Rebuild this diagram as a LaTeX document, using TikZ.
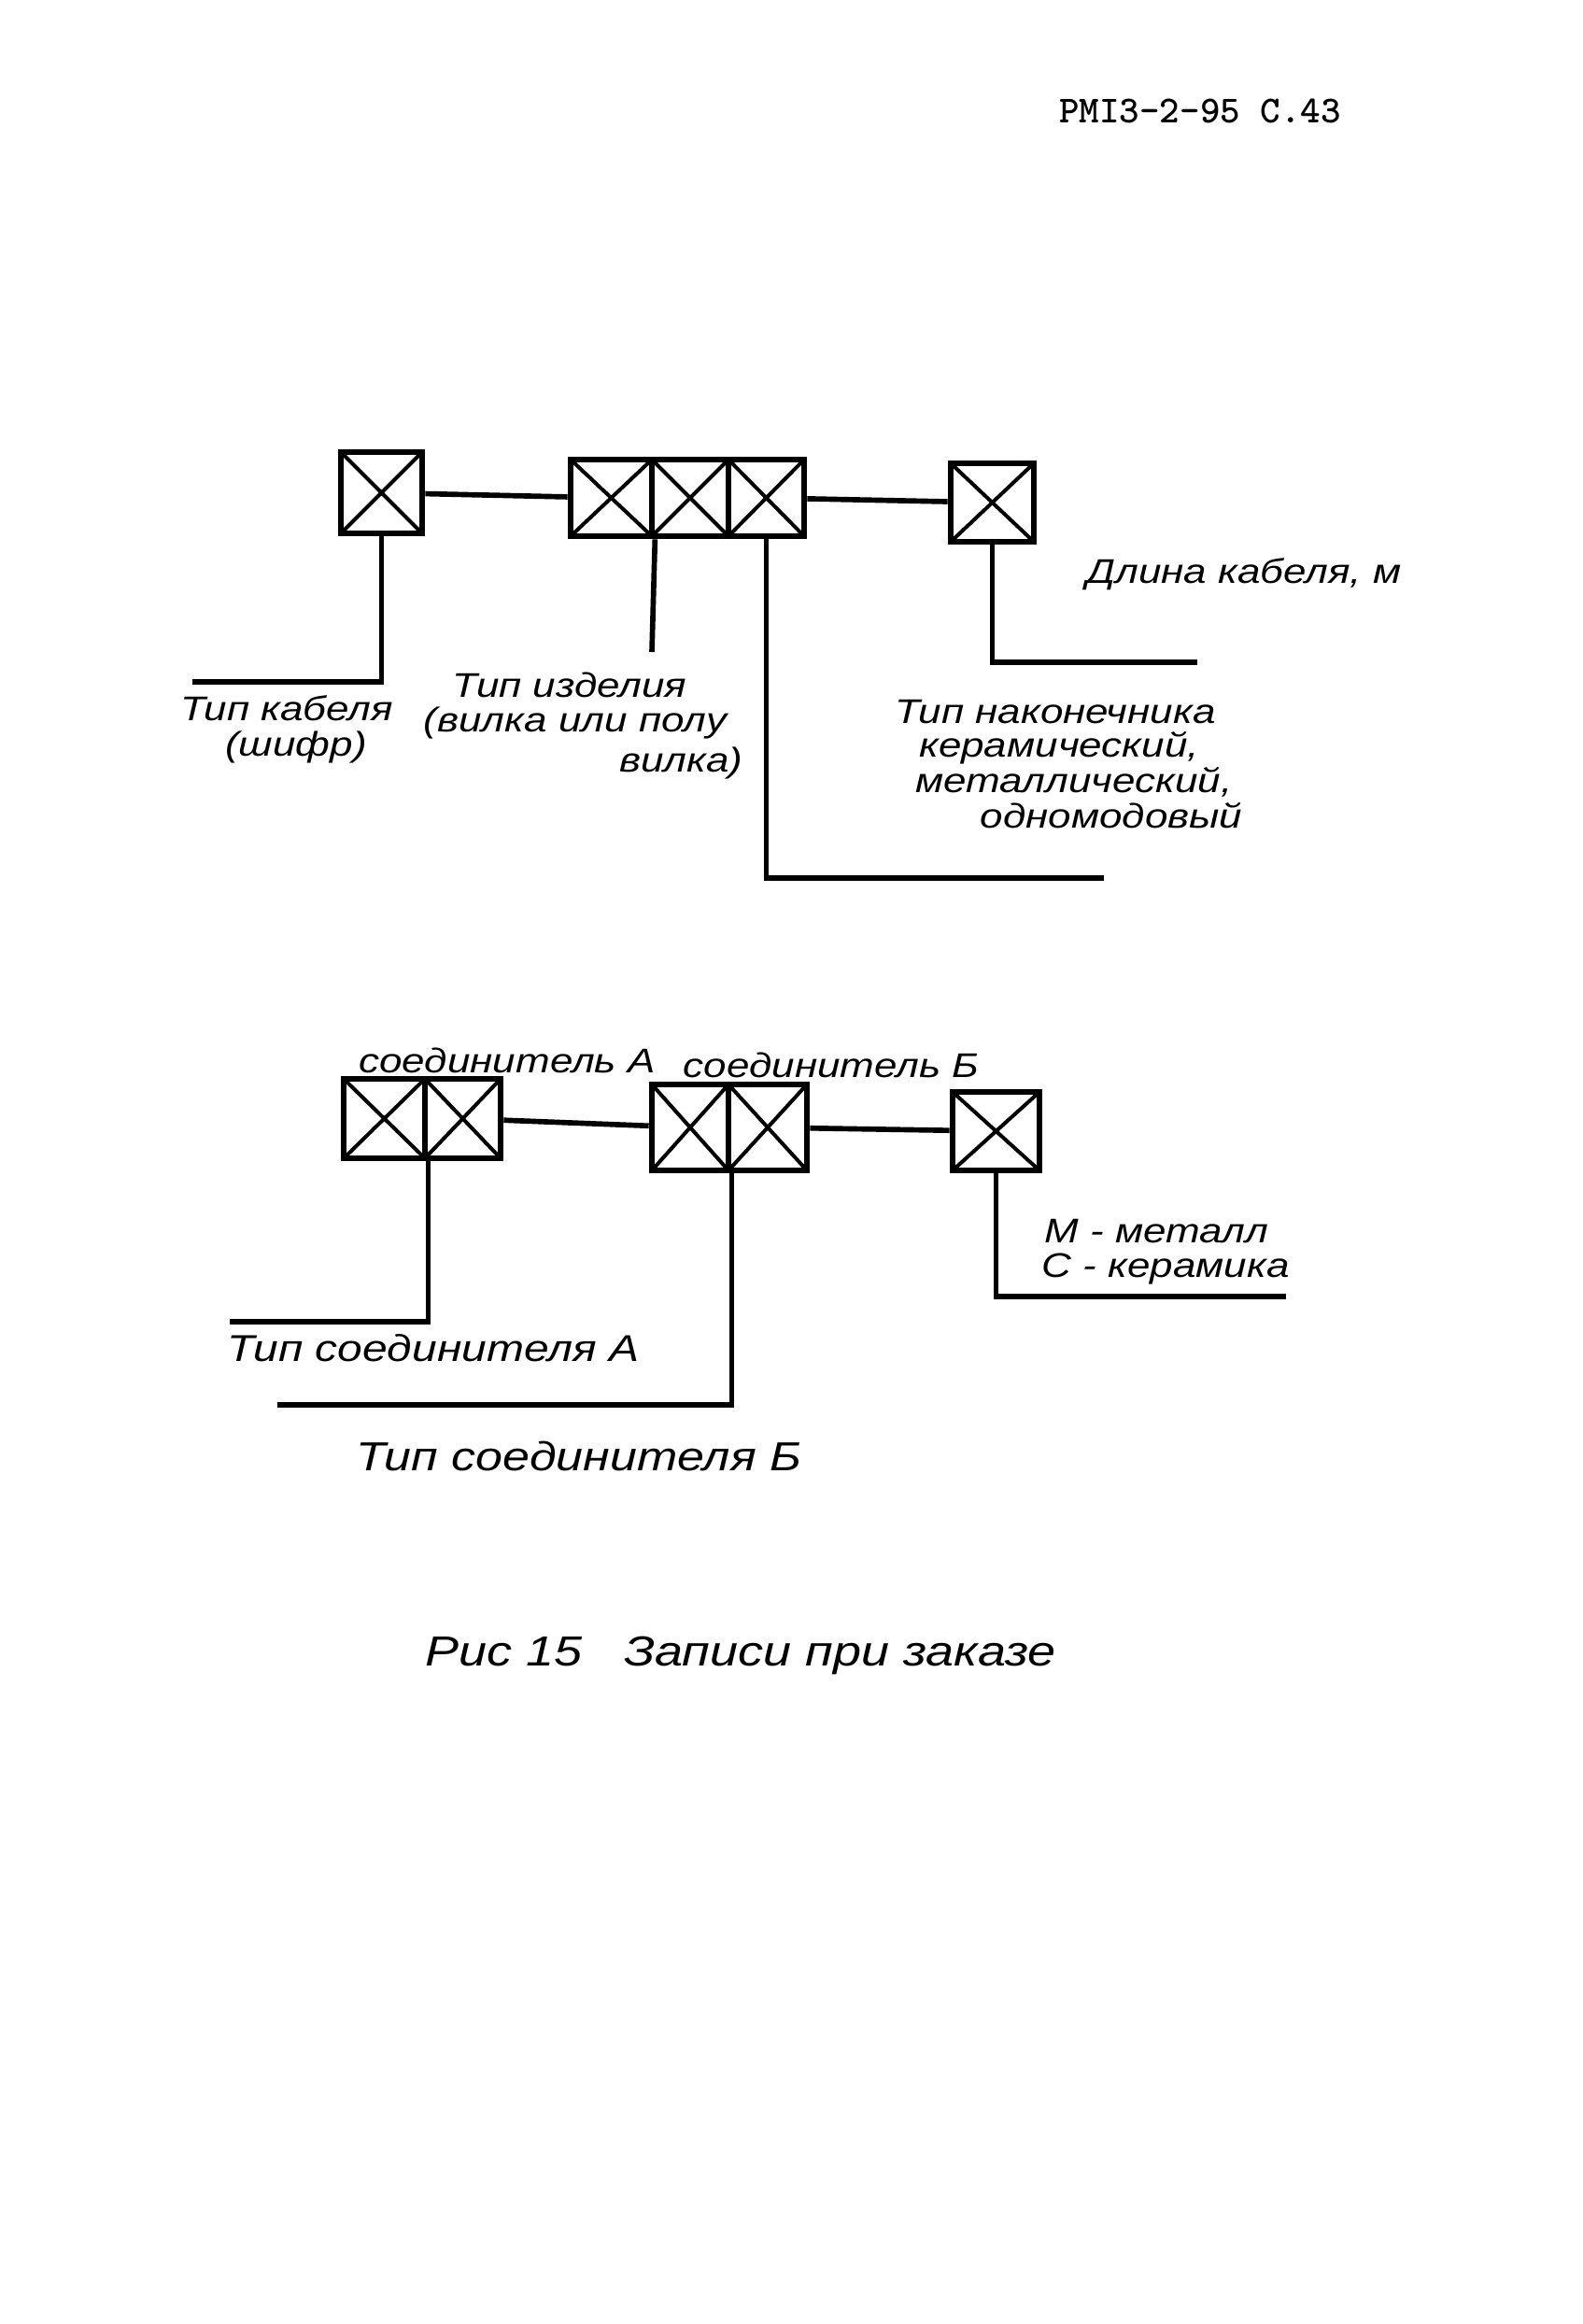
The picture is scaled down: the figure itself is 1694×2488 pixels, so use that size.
\documentclass[tikz,border=0pt]{standalone}
\usepackage{fontspec}
\newfontfamily\hand[FakeStretch=1.2]{Liberation Sans}
\begin{document}
\begin{tikzpicture}[x=0.3pt,y=-0.3pt,
  xbox/.style 2 args={draw, line width=2pt, minimum width=#1, minimum height=#2, inner sep=0pt,
    path picture={\draw[line width=1.2pt] (path picture bounding box.north west) -- (path picture bounding box.south east)
      (path picture bounding box.north east) -- (path picture bounding box.south west);}},
  conn/.style={line width=1.7pt},
  lbl/.style={font=\hand\itshape\fontsize{11}{13}\selectfont, inner sep=0pt},
  lblb/.style={font=\hand\itshape\fontsize{12}{14}\selectfont, inner sep=0pt},
  lblc/.style={font=\hand\itshape\fontsize{13}{15}\selectfont, inner sep=0pt},
  figcap/.style={font=\hand\itshape\fontsize{13.5}{16}\selectfont, inner sep=0pt},
  hdr/.style={font=\ttfamily\bfseries\fontsize{12.3}{14}\selectfont, inner sep=0pt}]
\useasboundingbox (0,0) rectangle (1694,2488);
\node[hdr] (hd) at (1285,119) {PMI3-2-95 C.43};
% top diagram
\node[xbox={26.1pt}{26.1pt}] (b1) at (408.5,527.5) {};
\node[xbox={26.1pt}{24.6pt}] (g1) at (654.5,533) {};
\node[xbox={24.6pt}{24.6pt}] (g2) at (739,533) {};
\node[xbox={24.3pt}{24.6pt}] (g3) at (820.5,533) {};
\node[xbox={26.7pt}{25.2pt}] (b4) at (1062.5,538) {};
\draw[conn] (b1) -- (g1);
\draw[conn] (g3) -- (b4);
\coordinate (l1) at (206,730);
\coordinate (l2) at (698,698);
\coordinate (l3) at (1182,940);
\coordinate (l4) at (1282,709);
\draw[conn] (b1.south) |- (l1);
\draw[conn] (g1.south east) -- (l2);
\draw[conn] (g3.south) |- (l3);
\draw[conn] (b4.south) |- (l4);
\node[lbl] (t1a) at (307,758) {Тип кабеля};
\node[lbl] (t1b) at (317,800) {(шифр)};
\node[lbl] (t2a) at (610,733) {Тип изделия};
\node[lbl] (t2b) at (616,774) {(вилка или полу};
\node[lbl,anchor=east] (t2c) at (796,817) {вилка)};
\node[lbl] (t4) at (1332,615) {Длина кабеля, м};
\node[lbl] (t3a) at (1130,762) {Тип наконечника};
\node[lbl] (t3b) at (1134,801) {керамический,};
\node[lbl] (t3c) at (1150,837) {металлический,};
\node[lbl] (t3d) at (1190,873) {одномодовый};
% bottom diagram
\node[lbl] (sa) at (543,1135) {соединитель А};
\node[lbl] (sb) at (890,1140) {соединитель Б};
\node[xbox={26.1pt}{25.5pt}] (a1) at (411.5,1197.5) {};
\node[xbox={24.3pt}{25.5pt}] (a2) at (495.5,1197.5) {};
\node[xbox={24.6pt}{27.6pt}] (c1) at (739,1207) {};
\node[xbox={25.2pt}{27.6pt}] (c2) at (822,1207) {};
\node[xbox={27.9pt}{25.2pt}] (bC) at (1066.5,1211) {};
\draw[conn] (a2) -- (c1);
\draw[conn] (c2) -- (bC);
\coordinate (la) at (246,1415);
\coordinate (lc) at (297,1504);
\coordinate (lC) at (1377,1388);
\draw[conn] (a1.south east) |- (la);
\draw[conn] (c1.south east) |- (lc);
\draw[conn] (bC.south) |- (lC);
\node[lblb] (ta) at (464,1443) {Тип соединителя А};
\node[lblc] (tb) at (620,1559) {Тип соединителя Б};
\node[lbl,anchor=west] (tm) at (1118,1318) {М - металл};
\node[lbl,anchor=west] (tc) at (1115,1358) {С - керамика};
\node[figcap] (fig) at (793,1772) {Рис 15\quad Записи при заказе};
\end{tikzpicture}
\end{document}
